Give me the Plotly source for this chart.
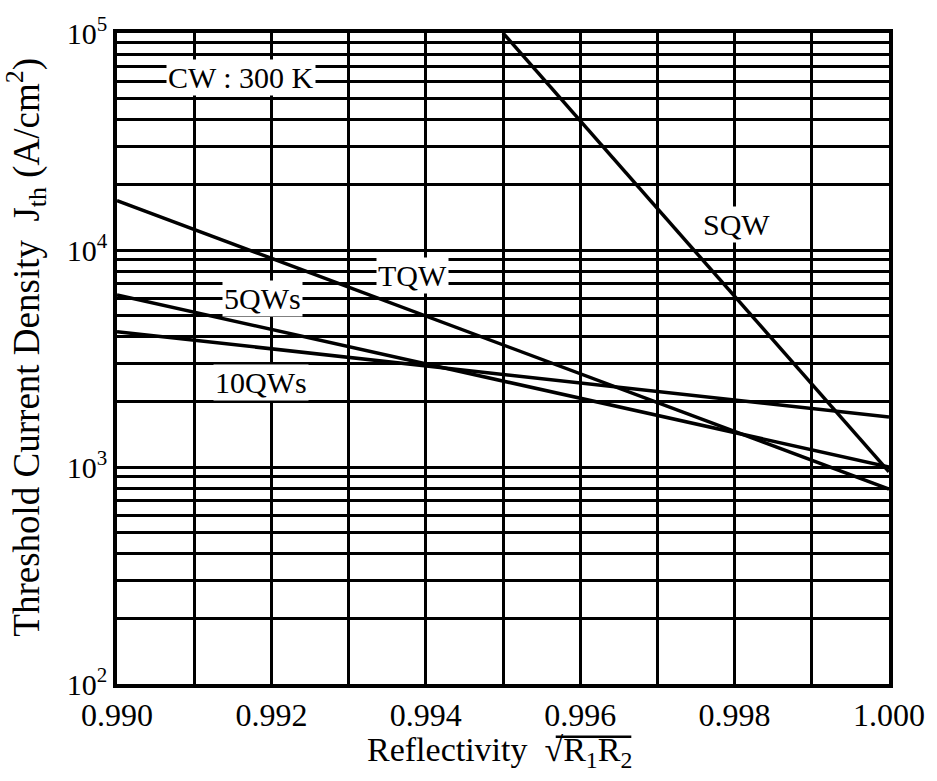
import math
import plotly.graph_objects as go

# Data (straight lines on log scale, endpoints)
sqw_x = [0.995, 1.000]
sqw_y = [100000, 950]
tqw_x = [0.990, 1.000]
tqw_y = [16900, 790]
qw5_x = [0.990, 1.000]
qw5_y = [6200, 1000]
qw10_x = [0.990, 1.000]
qw10_y = [4200, 1700]

x_ticks = [0.990, 0.991, 0.992, 0.993, 0.994, 0.995, 0.996, 0.997, 0.998, 0.999, 1.000]
x_ticktext = ["0.990", "", "0.992", "", "0.994", "", "0.996", "", "0.998", "", "1.000"]
y_ticks = [m * 10 ** e for e in (2, 3, 4) for m in range(1, 10)] + [100000]
y_ticktext = [("10<sup>%d</sup>" % e if m == 1 else "") for e in (2, 3, 4) for m in range(1, 10)] + ["10<sup>5</sup>"]

labels = ["CW : 300 K", "SQW", "TQW", "5QWs", "10QWs"]
label_x = [0.99161, 0.99802, 0.99383, 0.99189, 0.99187]
label_y = [62200, 13150, 7670, 5960, 2455]

FONT = "Liberation Serif"

fig = go.Figure()
for xs, ys in [(sqw_x, sqw_y), (tqw_x, tqw_y), (qw5_x, qw5_y), (qw10_x, qw10_y)]:
    fig.add_trace(go.Scatter(x=xs, y=ys, mode="lines",
                             line=dict(color="black", width=3.5), showlegend=False))

for t, lx, ly in zip(labels, label_x, label_y):
    fig.add_annotation(x=lx, y=math.log10(ly), text=t, showarrow=False,
                       font=dict(family=FONT, size=30, color="black"),
                       bgcolor="white", borderpad=1)

fig.update_layout(
    width=937, height=781,
    margin=dict(l=117, r=44, t=30, b=97),
    paper_bgcolor="white", plot_bgcolor="white",
    font=dict(family=FONT, color="black"),
    xaxis=dict(range=[0.990, 1.000], tickvals=x_ticks, ticktext=x_ticktext,
               showgrid=True, gridcolor="black", gridwidth=2.5,
               showline=True, linecolor="black", linewidth=3.5, mirror=True,
               ticks="", tickfont=dict(size=32, family=FONT), zeroline=False),
    yaxis=dict(type="log", range=[2, 5], tickvals=y_ticks, ticktext=y_ticktext,
               showgrid=True, gridcolor="black", gridwidth=2.5,
               showline=True, linecolor="black", linewidth=3.5, mirror=True,
               ticks="", tickfont=dict(size=30, family=FONT), zeroline=False),
)

# y-axis title
fig.add_annotation(xref="paper", yref="paper", x=-0.118, y=0.518, xanchor="center", yanchor="middle",
                   textangle=-90, showarrow=False,
                   text="Threshold Current Density  J<sub>th</sub> (A/cm<sup>2</sup>)",
                   font=dict(size=37, family=FONT, color="black"))

# x-axis title with square-root symbol
fig.add_annotation(xref="paper", yref="paper", x=0.496, y=-0.104, xanchor="center", yanchor="middle",
                   text="Reflectivity  \u221aR<sub>1</sub>R<sub>2</sub>", showarrow=False,
                   font=dict(size=34, family=FONT, color="black"))
# overline of the square root
fig.add_shape(type="line", xref="paper", yref="paper", x0=0.5683, x1=0.6662, y0=-0.081, y1=-0.081,
              line=dict(color="black", width=2.5))

fig.write_html("out.html")
